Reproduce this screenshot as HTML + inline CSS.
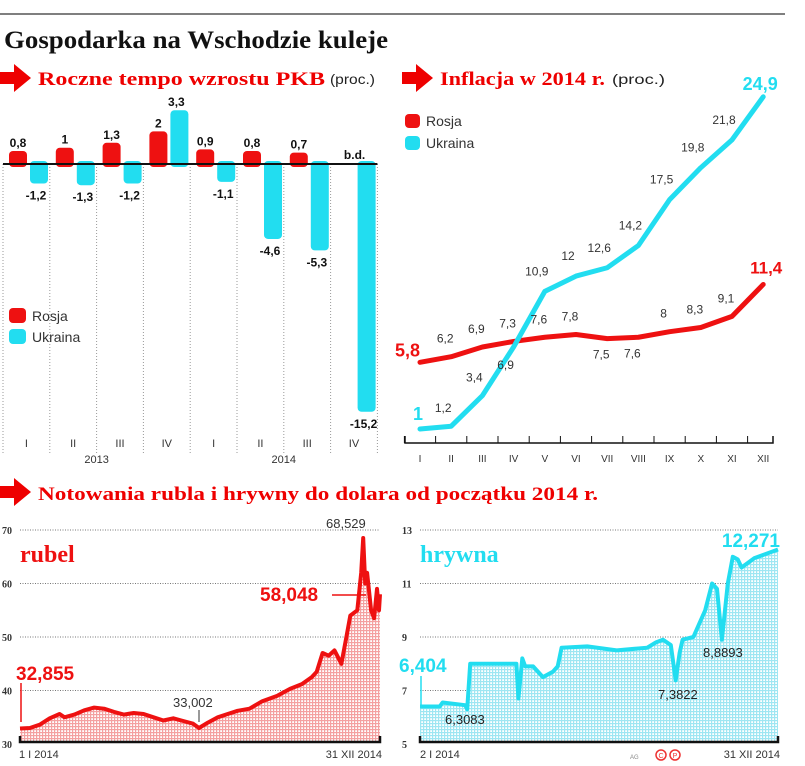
<!DOCTYPE html>
<html><head><meta charset="utf-8"><style>
body{margin:0;background:#fff;}
svg{display:block;font-family:"Liberation Sans",sans-serif;}
.ser{font-family:"Liberation Serif",serif;font-weight:bold;}
</style></head><body>
<svg id="s" width="805" height="766" viewBox="0 0 805 766" xmlns="http://www.w3.org/2000/svg">
<defs>
<pattern id="pr" width="3" height="3" patternUnits="userSpaceOnUse"><rect width="3" height="3" fill="#fff"/><rect width="1.2" height="3" fill="#f4a0a0"/><rect width="3" height="1.2" fill="#f4a0a0"/></pattern>
<pattern id="pc" width="3" height="3" patternUnits="userSpaceOnUse"><rect width="3" height="3" fill="#fff"/><rect width="1.2" height="3" fill="#9ee6f2"/><rect width="3" height="1.2" fill="#9ee6f2"/></pattern>
</defs>
<line x1="0" y1="14" x2="785" y2="14" stroke="#555" stroke-width="1.5"/>
<text x="4" y="48" class="ser" font-size="25" fill="#111" textLength="384" lengthAdjust="spacingAndGlyphs">Gospodarka na Wschodzie kuleje</text>
<g>
<polygon points="0,72 14,72 14,64 31,78 14,92 14,84 0,84" fill="#e00"/>
<text x="38" y="85" class="ser" font-size="19" fill="#e00" textLength="287" lengthAdjust="spacingAndGlyphs">Roczne tempo wzrostu PKB</text>
<text x="330" y="84" font-size="14" fill="#222" textLength="45" lengthAdjust="spacingAndGlyphs">(proc.)</text>
</g>
<g>
<polygon points="402,72 416,72 416,64 433,78 416,92 416,84 402,84" fill="#e00"/>
<text x="440" y="85" class="ser" font-size="19" fill="#e00" textLength="165" lengthAdjust="spacingAndGlyphs">Inflacja w 2014 r.</text>
<text x="612" y="84" font-size="14" fill="#222" textLength="53" lengthAdjust="spacingAndGlyphs">(proc.)</text>
</g>
<g>
<polygon points="0,486 14,486 14,478 31,492 14,506 14,498 0,498" fill="#e00"/>
<text x="38" y="500" class="ser" font-size="19" fill="#e00" textLength="560" lengthAdjust="spacingAndGlyphs">Notowania rubla i hrywny do dolara od początku 2014 r.</text>
</g>
<g id="bars"></g><g id="infl"></g><g id="rub"></g><g id="hry"></g>
<g>
<text x="630" y="759" font-size="6" fill="#888">AG</text>
<circle cx="661" cy="755" r="5" fill="none" stroke="#e33" stroke-width="1.5"/><circle cx="675" cy="755" r="5" fill="none" stroke="#e33" stroke-width="1.5"/>
<text x="661" y="758" font-size="7" fill="#e33" text-anchor="middle">C</text><text x="675" y="758" font-size="7" fill="#e33" text-anchor="middle">P</text>
</g>
</svg>
<script>
// ---- PKB bar chart data
const pkbQuarters=["I","II","III","IV","I","II","III","IV"];
const pkbRosja=[0.8,1,1.3,2,0.9,0.8,0.7,null];
const pkbUkraina=[-1.2,-1.3,-1.2,3.3,-1.1,-4.6,-5.3,-15.2];
const pkbYears=["2013","2014"];
// ---- Inflation data
const inflMonths=["I","II","III","IV","V","VI","VII","VIII","IX","X","XI","XII"];
const inflRosja=[5.8,6.2,6.9,7.3,7.6,7.8,7.5,7.6,8,8.3,9.1,11.4];
const inflUkraina=[1,1.2,3.4,6.9,10.9,12,12.6,14.2,17.5,19.8,21.8,24.9];
// ---- Rubel data (day of year, value)
const rubDays=[0,10,20,30,40,45,55,65,75,85,95,105,115,125,135,145,155,165,175,181,190,200,210,220,232,245,260,273,285,295,300,306,312,318,325,330,334,341,345,347,349,351,355,358,361,363,364];
const rubVals=[32.9,33,33.6,34.8,35.6,35.0,35.5,36.3,36.8,36.6,36.0,35.5,35.8,35.6,35.0,34.4,34.8,34.3,33.8,33.0,34.0,35.0,35.6,36.2,36.6,38,39,40.3,41.2,42.5,43.5,47,46.5,47.5,45,50,54,55,62,68.5,60,62,55,53.5,59,55,58];
const rubTicks=[30,40,50,60,70];
// ---- Hrywna data
const hryDays=[0,20,23,46,48,51,70,98,100,104,107,115,125,135,140,144,170,200,231,240,247,255,260,264,267,278,290,297,302,307,313,318,323,327,340,364];
const hryVals=[6.4,6.4,6.55,6.45,6.3,8.0,8.0,8.0,6.7,8.2,7.9,7.9,7.5,7.7,7.9,8.6,8.65,8.5,8.6,8.8,8.9,8.7,7.38,8.4,8.9,9.0,10.0,11.0,10.8,8.9,11.0,12.0,11.9,11.6,11.95,12.27];
const hryTicks=[5,7,9,11,13];

const NS="http://www.w3.org/2000/svg";
function mk(p,tag,a,txt){const e=document.createElementNS(NS,tag);for(const k in a)e.setAttribute(k,a[k]);if(txt!==undefined)e.textContent=txt;p.appendChild(e);return e;}
const RED="#ee1111",CY="#22ddf0";

// PKB chart
(function(){
const g=document.getElementById('bars');
const x0=3,gw=46.8,y0=164,k=16.3;
const yv=v=>y0-v*k;
for(let i=0;i<=8;i++){const l=mk(g,'line',{x1:x0+i*gw,y1:y0,x2:x0+i*gw,y2:455,stroke:"#999","stroke-dasharray":"1,2"});

}
pkbQuarters.forEach((q,i)=>{
 const gx=x0+i*gw;
 const t=mk(g,'text',{x:gx+gw/2,y:447,"font-size":11,"text-anchor":"middle",fill:"#333"},q);
 
 
 const r=pkbRosja[i];
 if(r!==null){const b=mk(g,'rect',{x:gx+6,y:yv(r),width:18,height:r*k+3,rx:4,fill:RED});
  
  
  const lt=mk(g,'text',{x:gx+15,y:yv(r)-4,"font-size":12,"font-weight":"bold","text-anchor":"middle",fill:"#111"},String(r).replace('.',','));
  
  
 } else {
  const lt=mk(g,'text',{x:gx+24,y:y0-5,"font-size":12,"font-weight":"bold","text-anchor":"middle",fill:"#111"},"b.d.");
  
  
 }
 const u=pkbUkraina[i];
 const bt=u>=0?yv(u):y0-3, bh=Math.abs(u)*k+3;
 const b2=mk(g,'rect',{x:gx+27,y:bt,width:18,height:bh,rx:4,fill:CY});
 
 
 const ly=u>=0?yv(u)-4:yv(u)+16;
 const lt2=mk(g,'text',{x:gx+33,y:ly,"font-size":12,"font-weight":"bold","text-anchor":"middle",fill:"#111"},String(u).replace('.',','));
 
 
});
const ax=mk(g,'line',{x1:x0,y1:y0,x2:x0+8*gw,y2:y0,stroke:"#111","stroke-width":2});


pkbYears.forEach((yr,j)=>{const t=mk(g,'text',{x:x0+gw*(2+4*j),y:463,"font-size":11,"text-anchor":"middle",fill:"#333"},yr);
 
 });
const lg=mk(g,'g',{});


mk(lg,'rect',{x:9,y:308,width:17,height:15,rx:4,fill:RED});
mk(lg,'text',{x:32,y:321,"font-size":14,fill:"#333"},"Rosja");
mk(lg,'rect',{x:9,y:329,width:17,height:15,rx:4,fill:CY});
mk(lg,'text',{x:32,y:342,"font-size":14,fill:"#333"},"Ukraina");
})();

// Inflation chart
(function(){
const g=document.getElementById('infl');
const xs=i=>420+i*31.2, ys=v=>429-(v-1)*13.9;
const ax=mk(g,'path',{d:`M405,436 V443 H773 V436`,fill:"none",stroke:"#111","stroke-width":1.5});


inflMonths.forEach((m,i)=>{
 mk(g,'line',{x1:xs(i)-15.6,y1:436,x2:xs(i)-15.6,y2:443,stroke:"#111"});
 const t=mk(g,'text',{x:xs(i),y:462,"font-size":10,"text-anchor":"middle",fill:"#333"},m);
 
 
});
const lineR=mk(g,'polyline',{points:inflRosja.map((v,i)=>xs(i)+","+ys(v)).join(" "),fill:"none",stroke:RED,"stroke-width":5,"stroke-linejoin":"round","stroke-linecap":"round"});


const lineU=mk(g,'polyline',{points:inflUkraina.map((v,i)=>xs(i)+","+ys(v)).join(" "),fill:"none",stroke:CY,"stroke-width":5,"stroke-linejoin":"round","stroke-linecap":"round"});


const rOff=[0,-14,-14,-14,-14,-14,20,20,-14,-14,-14,0], uOff=[0,-14,-14,22,-16,-16,-16,-16,-16,-16,-16,0];
inflRosja.forEach((v,i)=>{
 const s=String(v).replace('.',',');
 let t;
 if(i===0) t=mk(g,'text',{x:395,y:ys(v)-6,"font-size":18,"font-weight":"bold",fill:RED},s);
 else if(i===11) t=mk(g,'text',{x:xs(i)+3,y:ys(v)-11,"font-size":17,"font-weight":"bold",fill:RED,"text-anchor":"middle"},s);
 else t=mk(g,'text',{x:xs(i)-6,y:ys(v)+rOff[i],"font-size":12,fill:"#333","text-anchor":"middle"},s);
 
 
});
inflUkraina.forEach((v,i)=>{
 const s=String(v).replace('.',',');
 let t;
 if(i===0) t=mk(g,'text',{x:418,y:ys(v)-9,"font-size":18,"font-weight":"bold",fill:CY,"text-anchor":"middle"},s);
 else if(i===11) t=mk(g,'text',{x:xs(i)-3,y:ys(v)-7,"font-size":18,"font-weight":"bold",fill:CY,"text-anchor":"middle"},s);
 else t=mk(g,'text',{x:xs(i)-8,y:ys(v)+uOff[i],"font-size":12,fill:"#333","text-anchor":"middle"},s);
 
 
});
const lg=mk(g,'g',{});


mk(lg,'rect',{x:405,y:114,width:15,height:14,rx:4,fill:RED});
mk(lg,'text',{x:426,y:126,"font-size":14,fill:"#333"},"Rosja");
mk(lg,'rect',{x:405,y:136,width:15,height:14,rx:4,fill:CY});
mk(lg,'text',{x:426,y:148,"font-size":14,fill:"#333"},"Ukraina");
})();

// currency chart helper
function currency(gid,days,vals,ticks,x0,x1,vmin,vmax,color,pat,name){
 const g=document.getElementById(gid);
 const yT=530,yB=744;
 const xs=d=>x0+d/364*(x1-x0), ys=v=>yB-(v-vmin)/(vmax-vmin)*(yB-yT);
 ticks.forEach(t=>{
  if(t!==vmin){const l=mk(g,'line',{x1:x0,y1:ys(t),x2:x1,y2:ys(t),stroke:"#777","stroke-dasharray":"1,1.5"});
   
   }
  const tl=mk(g,'text',{x:x0-18,y:ys(t)+4,"font-size":10,fill:"#333",class:"ser","font-weight":"normal"},String(t));
  
  
 });
 const pts=days.map((d,i)=>xs(d).toFixed(1)+","+ys(vals[i]).toFixed(1));
 const area=mk(g,'path',{d:"M"+xs(days[0])+","+(yB-2)+" L"+pts.join(" L")+" L"+xs(days[days.length-1])+","+(yB-2)+"Z",fill:"url(#"+pat+")"});
 
 
 const ln=mk(g,'polyline',{points:pts.join(" "),fill:"none",stroke:color,"stroke-width":4,"stroke-linejoin":"round"});
 
 
 const ax=mk(g,'path',{d:`M${x0},736 V742 H${x1} V736`,fill:"none",stroke:"#111","stroke-width":2.5});
 
 
 return {xs,ys,g};
}
(function(){
 const c=currency('rub',rubDays,rubVals,rubTicks,20,380,30,70,RED,'pr','rubel');
 const g=c.g;
 const A=(n,el)=>{};
 A('rubel-title',mk(g,'text',{x:20,y:562,"font-size":24,fill:RED,class:"ser"},"rubel"));
 A('rubel-start-value',mk(g,'text',{x:16,y:680,"font-size":19,"font-weight":"bold",fill:RED},"32,855"));
 mk(g,'line',{x1:21,y1:683,x2:21,y2:722,stroke:RED,"stroke-width":1.5});
 A('rubel-max-value',mk(g,'text',{x:326,y:528,"font-size":13,fill:"#333"},"68,529"));
 A('rubel-end-value',mk(g,'text',{x:260,y:601,"font-size":19,"font-weight":"bold",fill:RED},"58,048"));
 mk(g,'line',{x1:332,y1:595,x2:366,y2:595,stroke:RED,"stroke-width":1.5});
 A('rubel-min-value',mk(g,'text',{x:173,y:707,"font-size":13,fill:"#333"},"33,002"));
 mk(g,'line',{x1:199,y1:710,x2:199,y2:722,stroke:"#333"});
 A('rubel-start-date',mk(g,'text',{x:19,y:758,"font-size":11,fill:"#333"},"1 I 2014"));
 A('rubel-end-date',mk(g,'text',{x:382,y:758,"font-size":11,fill:"#333","text-anchor":"end"},"31 XII 2014"));
})();
(function(){
 const c=currency('hry',hryDays,hryVals,hryTicks,420,778,5,13,CY,'pc','hrywna');
 const g=c.g;
 const A=(n,el)=>{};
 A('hrywna-title',mk(g,'text',{x:420,y:562,"font-size":24,fill:CY,class:"ser"},"hrywna"));
 A('hrywna-start-value',mk(g,'text',{x:399,y:672,"font-size":19,"font-weight":"bold",fill:CY},"6,404"));
 mk(g,'line',{x1:421,y1:676,x2:421,y2:705,stroke:CY,"stroke-width":1.5});
 A('hrywna-min-value',mk(g,'text',{x:445,y:724,"font-size":13,fill:"#222"},"6,3083"));
 A('hrywna-dip-value',mk(g,'text',{x:658,y:699,"font-size":13,fill:"#222"},"7,3822"));
 A('hrywna-dip2-value',mk(g,'text',{x:703,y:657,"font-size":13,fill:"#222"},"8,8893"));
 A('hrywna-end-value',mk(g,'text',{x:780,y:547,"font-size":19,"font-weight":"bold",fill:CY,"text-anchor":"end"},"12,271"));
 A('hrywna-start-date',mk(g,'text',{x:420,y:758,"font-size":11,fill:"#333"},"2 I 2014"));
 A('hrywna-end-date',mk(g,'text',{x:780,y:758,"font-size":11,fill:"#333","text-anchor":"end"},"31 XII 2014"));
})();
</script>
</body></html>
